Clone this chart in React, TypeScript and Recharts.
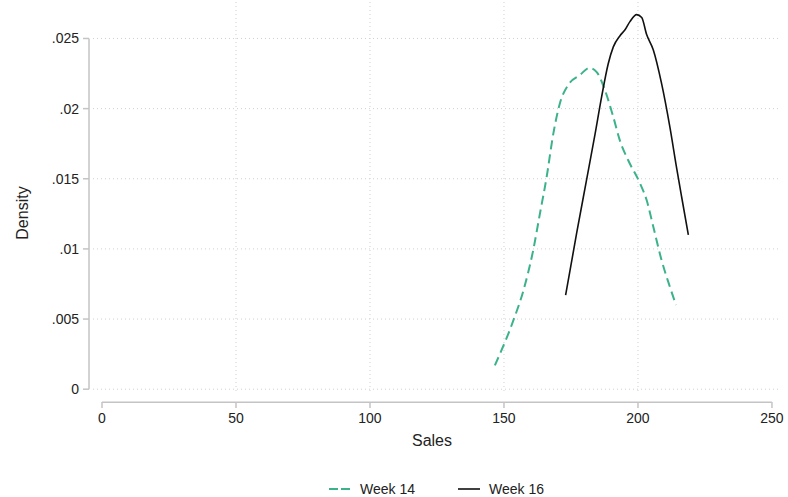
import { LineChart, Line, XAxis, YAxis, CartesianGrid, ReferenceLine } from 'recharts';

const week14Sales = [146.6, 153.5, 157.2, 160.9, 163.4, 165.9, 168.4, 170.9, 174.0, 178.4, 181.8, 184.6, 187.7, 190.8, 193.3, 196.4, 200.7, 203.2, 205.7, 208.8, 211.9, 214.2];
const week14Density = [0.0017, 0.0049, 0.007, 0.0099, 0.0125, 0.0151, 0.0182, 0.0204, 0.0217, 0.0224, 0.0229, 0.0226, 0.0213, 0.0194, 0.0177, 0.0163, 0.0147, 0.0135, 0.0116, 0.0092, 0.0073, 0.006];

const week16Sales = [173.0, 177.1, 180.8, 184.0, 186.4, 188.9, 190.8, 193.3, 195.1, 197.0, 199.5, 201.4, 203.2, 205.7, 208.8, 211.9, 214.4, 216.3, 218.8];
const week16Density = [0.0067, 0.0111, 0.0149, 0.0182, 0.0208, 0.0232, 0.0244, 0.0252, 0.0256, 0.0262, 0.0267, 0.0265, 0.0253, 0.0242, 0.0218, 0.0187, 0.0158, 0.0137, 0.011];

const xTicks = [0, 50, 100, 150, 200, 250];
const yTicks = [0, 0.005, 0.01, 0.015, 0.02, 0.025];

const GREEN = '#3cb28c';
const FONT = '"Liberation Sans", Arial, sans-serif';
const AXIS = '#c4c4c4';

const week14 = week14Sales.map((s, i) => ({ s, d: week14Density[i] }));
const week16 = week16Sales.map((s, i) => ({ s, d: week16Density[i] }));

const fmtY = (v: number) => (v === 0 ? '0' : String(v).replace(/^0/, ''));

function XTick({ x, payload }: any) {
  return (
    <g>
      <line x1={x} x2={x} y1={402} y2={408} stroke={AXIS} strokeWidth={1.5} />
      <text x={x} y={423} textAnchor="middle" fontSize={14} fontFamily={FONT} fill="#222">
        {payload.value}
      </text>
    </g>
  );
}

function YTick({ y, payload }: any) {
  return (
    <g>
      <line x1={83} x2={89} y1={y} y2={y} stroke={AXIS} strokeWidth={1.5} />
      <text x={79} y={y + 5} textAnchor="end" fontSize={14} fontFamily={FONT} fill="#222">
        {fmtY(payload.value)}
      </text>
    </g>
  );
}

export default function App() {
  return (
    <div style={{ position: 'absolute', left: 0, top: 0, width: 788, height: 497, background: '#fff' }}>
      <LineChart width={788} height={497} margin={{ top: 2, right: 8, bottom: 65, left: 0 }}>
        <CartesianGrid
          stroke="#d0d0d0"
          strokeDasharray="1 3"
          verticalValues={[50, 100, 150, 200]}
          horizontalValues={yTicks}
        />
        <XAxis
          type="number"
          dataKey="s"
          domain={[-3.36, 253]}
          allowDataOverflow
          ticks={xTicks}
          axisLine={false}
          tickLine={false}
          height={40}
          tick={<XTick />}
          label={() => (
            <text x={432} y={446} textAnchor="middle" fontSize={16} fontFamily={FONT} fill="#222">
              Sales
            </text>
          )}
        />
        <YAxis
          type="number"
          domain={[-0.0002, 0.0276]}
          allowDataOverflow
          ticks={yTicks}
          axisLine={false}
          tickLine={false}
          width={93}
          tick={<YTick />}
          label={() => (
            <text
              x={28}
              y={213}
              transform="rotate(-90 28 213)"
              textAnchor="middle"
              fontSize={16}
              fontFamily={FONT}
              fill="#222"
            >
              Density
            </text>
          )}
        />
        <ReferenceLine
          segment={[{ x: -4.85, y: 0 }, { x: -4.85, y: 0.025 }]}
          ifOverflow="visible"
          stroke={AXIS}
          strokeWidth={1.5}
        />
        <ReferenceLine
          segment={[{ x: 0, y: -0.000926 }, { x: 250, y: -0.000926 }]}
          ifOverflow="visible"
          stroke={AXIS}
          strokeWidth={1.5}
        />
        <Line
          data={week14}
          dataKey="d"
          type="monotone"
          stroke={GREEN}
          strokeWidth={2}
          strokeDasharray="9 5"
          dot={false}
          isAnimationActive={false}
        />
        <Line
          data={week16}
          dataKey="d"
          type="monotone"
          stroke="#111"
          strokeWidth={1.6}
          dot={false}
          isAnimationActive={false}
        />
      </LineChart>
      <div
        style={{
          position: 'absolute',
          top: 481,
          left: 84,
          width: 704,
          display: 'flex',
          justifyContent: 'center',
          alignItems: 'center',
          fontFamily: FONT,
          fontSize: 14,
          color: '#222',
        }}
      >
        <svg width={24} height={10} style={{ marginRight: 8 }}>
          <line x1={1} x2={23} y1={5} y2={5} stroke={GREEN} strokeWidth={2} strokeDasharray="9 3" />
        </svg>
        <span style={{ marginRight: 42 }}>Week 14</span>
        <svg width={24} height={10} style={{ marginRight: 8 }}>
          <line x1={1} x2={23} y1={5} y2={5} stroke="#111" strokeWidth={1.6} />
        </svg>
        <span>Week 16</span>
      </div>
    </div>
  );
}
